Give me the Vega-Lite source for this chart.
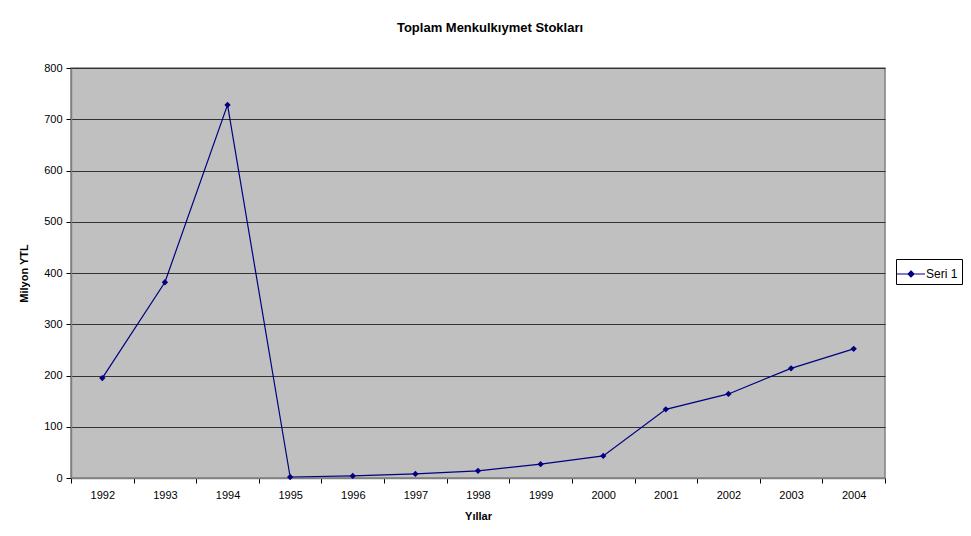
{
  "$schema": "https://vega.github.io/schema/vega-lite/v6.json",
  "autosize": "none",
  "width": 814,
  "height": 410,
  "padding": {"left": 71, "top": 68, "right": 86, "bottom": 58},
  "background": "white",
  "title": {
    "text": "Toplam Menkulkıymet Stokları",
    "font": "Liberation Sans",
    "fontSize": 13,
    "fontWeight": "bold",
    "color": "black",
    "anchor": "middle",
    "offset": 27,
    "dx": 12
  },
  "data": {
    "values": [
      {"yil": "1992", "deger": 195, "seri": "Seri 1"},
      {"yil": "1993", "deger": 382, "seri": "Seri 1"},
      {"yil": "1994", "deger": 728, "seri": "Seri 1"},
      {"yil": "1995", "deger": 2, "seri": "Seri 1"},
      {"yil": "1996", "deger": 4, "seri": "Seri 1"},
      {"yil": "1997", "deger": 8, "seri": "Seri 1"},
      {"yil": "1998", "deger": 14, "seri": "Seri 1"},
      {"yil": "1999", "deger": 27, "seri": "Seri 1"},
      {"yil": "2000", "deger": 43, "seri": "Seri 1"},
      {"yil": "2001", "deger": 134, "seri": "Seri 1"},
      {"yil": "2002", "deger": 164, "seri": "Seri 1"},
      {"yil": "2003", "deger": 214, "seri": "Seri 1"},
      {"yil": "2004", "deger": 252, "seri": "Seri 1"}
    ]
  },
  "encoding": {
    "x": {
      "field": "yil",
      "type": "ordinal",
      "scale": {"type": "band", "paddingInner": 0, "paddingOuter": 0},
      "axis": {
        "title": "Yıllar",
        "labelAngle": 0,
        "tickBand": "extent",
        "labelPadding": 6,
        "titlePadding": 10
      }
    },
    "y": {
      "field": "deger",
      "type": "quantitative",
      "scale": {"domain": [0, 800], "nice": false},
      "axis": {
        "title": "Milyon YTL",
        "values": [0, 100, 200, 300, 400, 500, 600, 700, 800],
        "grid": true,
        "titlePadding": 14,
        "labelPadding": 4
      }
    },
    "color": {
      "field": "seri",
      "type": "nominal",
      "scale": {"range": ["#000080"]},
      "legend": {
        "title": null,
        "orient": "none",
        "legendX": 825,
        "legendY": 191,
        "symbolType": "M-1.4,0H1.4M0,-0.3L0.3,0L0,0.3L-0.3,0Z",
        "symbolSize": 400,
        "symbolStrokeWidth": 1.2,
        "symbolFillColor": "#000080",
        "symbolStrokeColor": "#000080",
        "strokeColor": "black",
        "fillColor": "white",
        "padding": 4,
        "labelFont": "Liberation Sans",
        "labelFontSize": 12,
        "labelColor": "black",
        "labelOffset": 4
      }
    }
  },
  "layer": [
    {"mark": {"type": "line", "strokeWidth": 1.2}},
    {"mark": {"type": "point", "shape": "diamond", "filled": true, "size": 40, "opacity": 1}}
  ],
  "config": {
    "view": {"fill": "#C0C0C0", "stroke": "#808080", "strokeWidth": 1.5},
    "axis": {
      "labelFont": "Liberation Sans",
      "labelFontSize": 11,
      "labelColor": "black",
      "titleFont": "Liberation Sans",
      "titleFontSize": 11,
      "titleFontWeight": "bold",
      "titleColor": "black",
      "domainColor": "#808080",
      "domainWidth": 1.5,
      "tickColor": "#000000",
      "tickSize": 5,
      "gridColor": "#333333",
      "gridWidth": 1,
      "gridOpacity": 1
    },
    "axisX": {"grid": false}
  }
}
